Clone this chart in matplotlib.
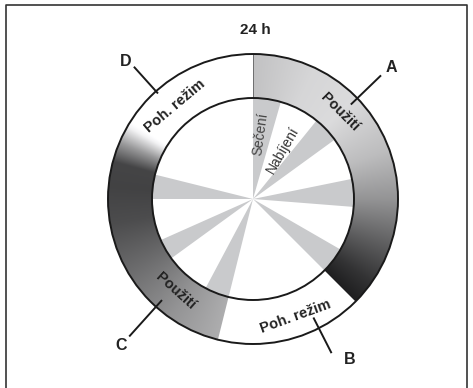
import numpy as np
import matplotlib
matplotlib.use("Agg")
import matplotlib.pyplot as plt
from matplotlib.patches import Wedge, Circle

plt.rcParams['font.family'] = ['Liberation Sans', 'DejaVu Sans']

# ---- data (angles in degrees, clockwise from 12 o'clock; 24 h = 360 deg) ----
title = "24 h"
ring_labels = ["A", "B", "C", "D"]
ring_texts = ["Použití", "Poh. režim", "Použití", "Poh. režim"]
ring_start = [0, 135, 194, 302]
ring_end = [135, 194, 302, 360]
ring_kind = ["gradA", "white", "gradC", "white"]

inner_start = [0, 39, 78.5, 120, 194, 234, 270]
inner_end = [16, 54, 94.5, 135, 208, 246, 284]
inner_texts = ["Sečení", "Nabíjení"]

# gray-level stops for the gradients (angle, level)
gradA_ang = [0, 25, 45, 70, 90, 110, 125, 135]
gradA_lvl = [0.76, 0.84, 0.86, 0.74, 0.58, 0.36, 0.2, 0.12]
gradC_ang = [194, 215, 240, 260, 275, 285, 293, 300, 302]
gradC_lvl = [0.68, 0.58, 0.42, 0.3, 0.26, 0.27, 0.6, 0.95, 1.0]

# ---- geometry (pixels) ----
W, H = 473, 388
cx, cy = 253, 199
r_in, r_out = 101, 145

fig = plt.figure(figsize=(W / 100, H / 100), dpi=100)
ax = fig.add_axes([0, 0, 1, 1])
ax.set_xlim(0, W)
ax.set_ylim(H, 0)
ax.axis('off')


def cw_to_math(a):
    return a - 90


def pt(angle_cw, r):
    t = np.deg2rad(angle_cw - 90)
    return cx + r * np.cos(t), cy + r * np.sin(t)


# frame
ax.plot([6, 6, 467, 467], [H, 5, 5, H], color='#333333', lw=1.2, solid_capstyle='butt')

# inner wedges
for s, e in zip(inner_start, inner_end):
    ax.add_patch(Wedge((cx, cy), r_in, cw_to_math(s), cw_to_math(e),
                       facecolor='#c9cacc', edgecolor='none', zorder=2))

# ring gradients as an image clipped to each segment wedge
ss = 3
n = int(2 * r_out * ss)
xs = cx - r_out + (np.arange(n) + 0.5) / ss
ys = cy - r_out + (np.arange(n) + 0.5) / ss
X, Y = np.meshgrid(xs, ys)
ang_cw = (np.degrees(np.arctan2(Y - cy, X - cx)) + 90) % 360
for s, e, kind in zip(ring_start, ring_end, ring_kind):
    if kind == "white":
        continue
    angs, lvls = (gradA_ang, gradA_lvl) if kind == "gradA" else (gradC_ang, gradC_lvl)
    lv = np.interp(ang_cw, angs, lvls)
    img = np.dstack([lv, lv, np.minimum(1, lv + 0.005), np.ones_like(lv)])
    im = ax.imshow(img, extent=(cx - r_out, cx + r_out, cy + r_out, cy - r_out),
                   interpolation='antialiased', zorder=3)
    clip = Wedge((cx, cy), r_out, cw_to_math(s), cw_to_math(e), width=r_out - r_in,
                 transform=ax.transData, facecolor='none', edgecolor='none')
    ax.add_patch(clip)
    im.set_clip_path(clip)

ax.set_xlim(0, W)
ax.set_ylim(H, 0)

# circles
ax.add_patch(Circle((cx, cy), r_in, fill=False, edgecolor='#1a1a1a', lw=1.4, zorder=5))
ax.add_patch(Circle((cx, cy), r_out, fill=False, edgecolor='#1a1a1a', lw=1.4, zorder=5))

# title
ax.text(cx + 2, 30, title, ha='center', va='center', fontsize=11, fontweight='bold',
        color='#222222', zorder=6)

# ring texts (angle, radius, rotation)
text_pos = [(45, 123, -45), (160, 125, 20), (220, 120, -42), (320, 121, 40)]
for t, (a, r, rot) in zip(ring_texts, text_pos):
    x, y = pt(a, r)
    ax.text(x, y, t, ha='center', va='center', rotation=rot, rotation_mode='anchor',
            fontsize=10.5, fontweight='bold', color='#222222', zorder=6)

# leader lines and letters
leaders = [(46, 136, 178, 46.5, 191), (153, 133, 173, 149, 187),
           (222, 136, 185, 222, 197), (318, 142, 178, 317.2, 187)]
for lab, (a, r1, r2, la, lr) in zip(ring_labels, leaders):
    x1, y1 = pt(a, r1)
    x2, y2 = pt(a, r2)
    ax.plot([x1, x2], [y1, y2], color='#1a1a1a', lw=1.4, zorder=6, solid_capstyle='butt')
    lx, ly = pt(la, lr)
    ax.text(lx, ly, lab, ha='center', va='center', fontsize=11.5, fontweight='bold',
            color='#222222', zorder=6)

# inner texts
x, y = pt(6.2, 65)
ax.text(x, y, inner_texts[0], ha='center', va='center', rotation=82, rotation_mode='anchor',
        fontsize=10, color='#444444', zorder=6)
x, y = pt(31.5, 57)
ax.text(x, y, inner_texts[1], ha='center', va='center', rotation=60, rotation_mode='anchor',
        fontsize=10, color='#333333', zorder=6)

fig.savefig("out.png", dpi=100)
